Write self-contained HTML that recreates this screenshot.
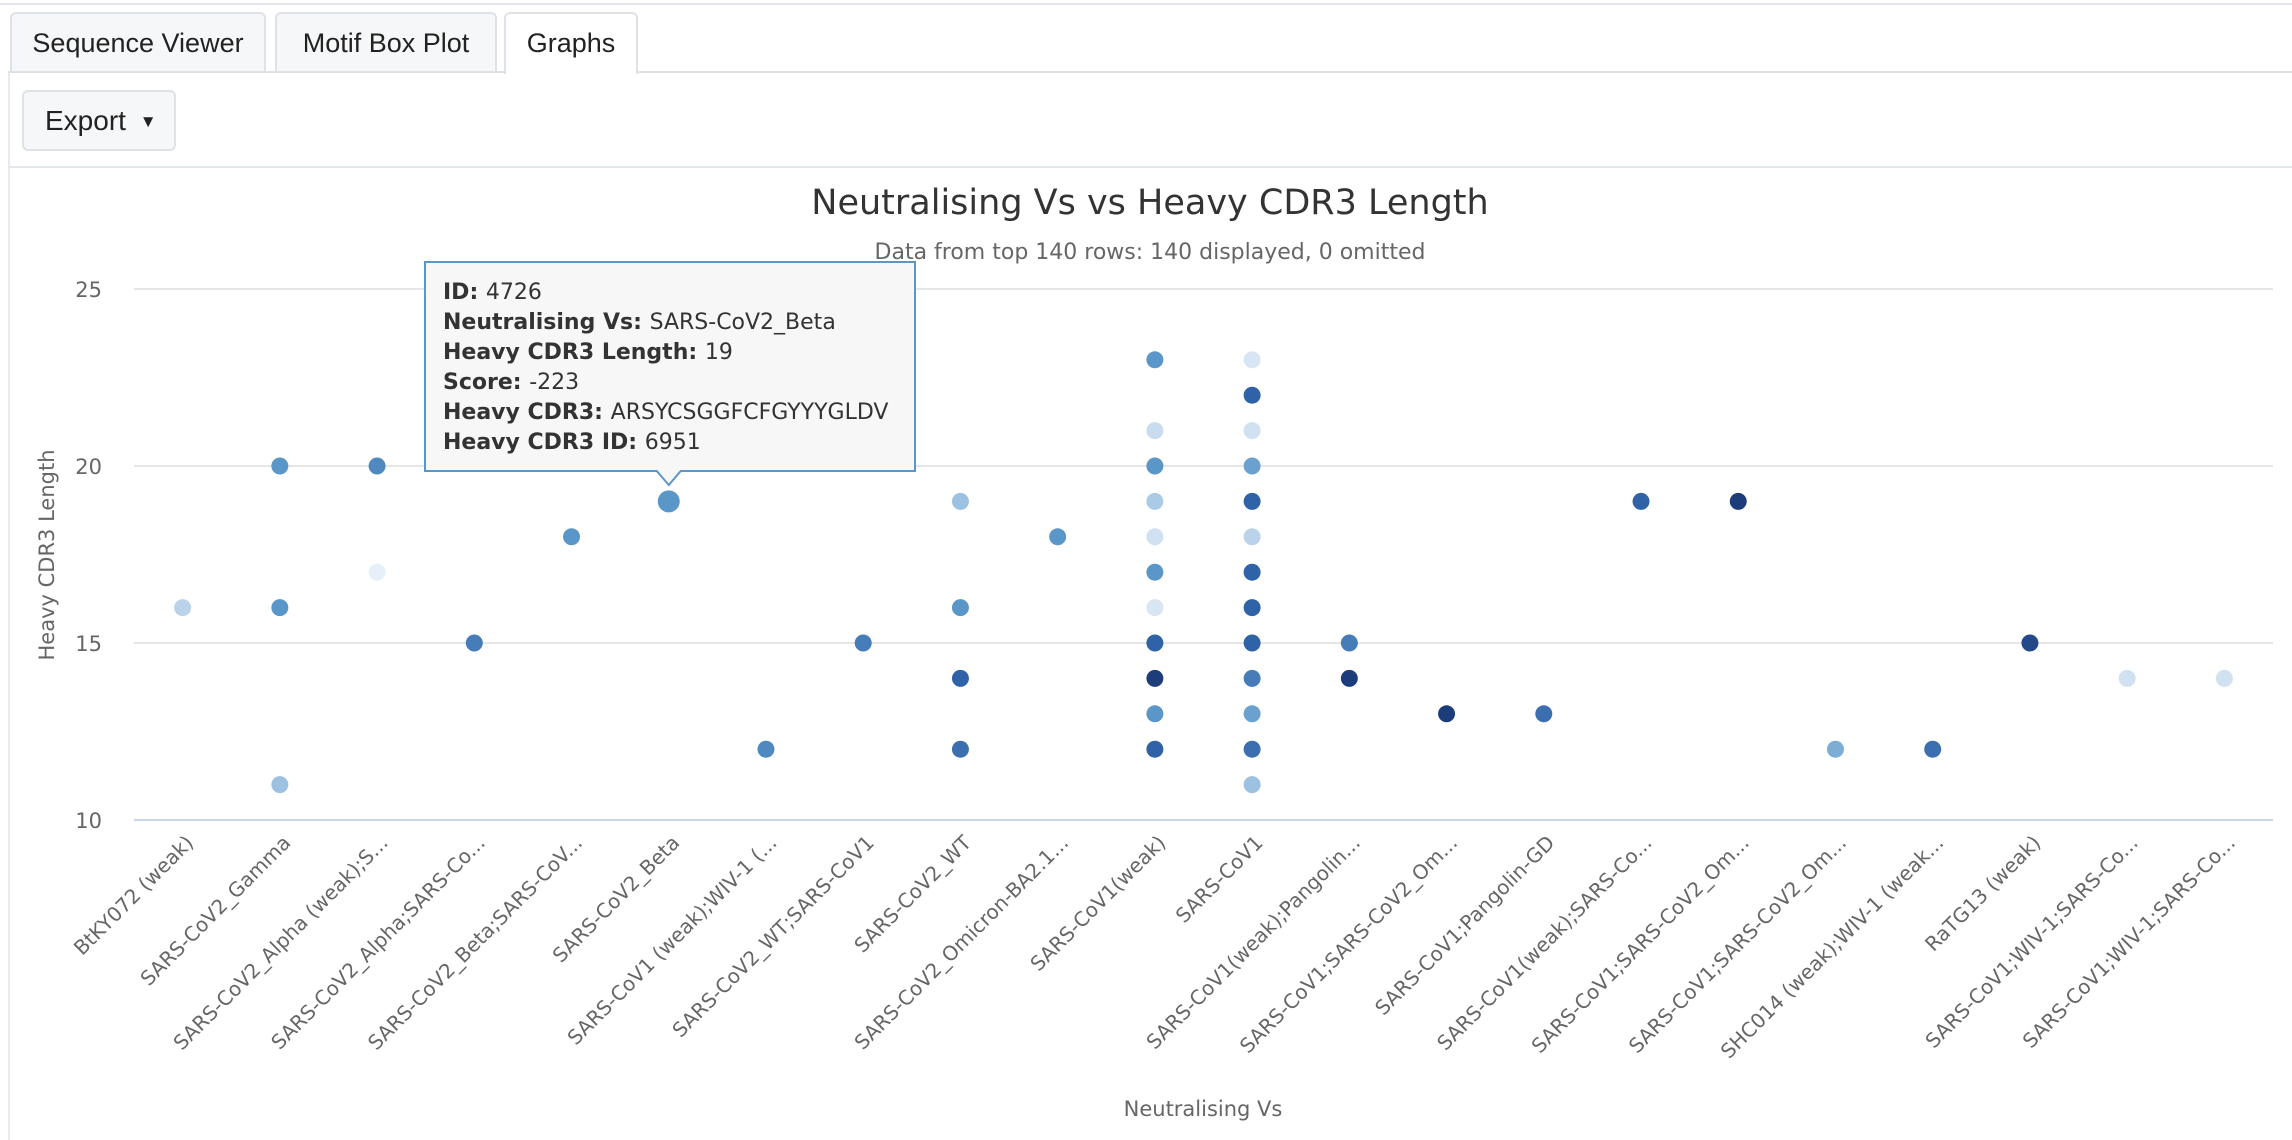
<!DOCTYPE html>
<html><head><meta charset="utf-8"><style>
body{margin:0;width:2292px;height:1140px;background:#fff;font-family:"Liberation Sans",sans-serif;overflow:hidden;position:relative}
.topline{position:absolute;left:0;top:3px;width:2292px;height:2px;background:#e3e6ea}
.tab{position:absolute;top:12px;height:60px;border:2px solid #dee2e6;border-bottom:none;border-radius:6px 6px 0 0;background:#f6f7f8;font-size:27px;color:#222;box-sizing:border-box;text-align:center;line-height:58px}
.tabline{position:absolute;left:8px;top:71px;width:2284px;height:2px;background:#dee2e6}
.export{position:absolute;left:22px;top:90px;width:154px;height:61px;border:2px solid #dee2e6;border-radius:6px;background:#f6f7f8;box-sizing:border-box;font-size:28px;line-height:57px;padding-left:21px;color:#222}
.sep{position:absolute;left:8px;top:166px;width:2284px;height:2px;background:#e3e6ea}
.lside{position:absolute;left:8px;top:72px;width:2px;height:1068px;background:#e8eaed}
</style></head><body>
<div class="topline"></div>
<div class="lside"></div>
<div class="tab" style="left:10px;width:256px">Sequence Viewer</div>
<div class="tab" style="left:275px;width:222px">Motif Box Plot</div>
<div class="tabline"></div>
<div class="tab" style="left:504px;width:134px;background:#fff;height:62px;z-index:2">Graphs</div>
<div class="export">Export <span style="font-size:17px;vertical-align:3px;margin-left:6px">▼</span></div>
<div class="sep"></div>
<svg id="chart" width="2292" height="1140" style="position:absolute;left:0;top:0"></svg>
<script>
const categories=["BtKY072 (weak)","SARS-CoV2_Gamma","SARS-CoV2_Alpha (weak);S...","SARS-CoV2_Alpha;SARS-Co...","SARS-CoV2_Beta;SARS-CoV...","SARS-CoV2_Beta","SARS-CoV1 (weak);WIV-1 (...","SARS-CoV2_WT;SARS-CoV1","SARS-CoV2_WT","SARS-CoV2_Omicron-BA2.1...","SARS-CoV1(weak)","SARS-CoV1","SARS-CoV1(weak);Pangolin...","SARS-CoV1;SARS-CoV2_Om...","SARS-CoV1;Pangolin-GD","SARS-CoV1(weak);SARS-Co...","SARS-CoV1;SARS-CoV2_Om...","SARS-CoV1;SARS-CoV2_Om...","SHC014 (weak);WIV-1 (weak...","RaTG13 (weak)","SARS-CoV1;WIV-1;SARS-Co...","SARS-CoV1;WIV-1;SARS-Co..."];
const pointCat=[0,1,1,1,2,2,3,4,5,6,7,8,8,8,8,9,10,10,10,10,10,10,10,10,10,10,10,11,11,11,11,11,11,11,11,11,11,11,11,11,12,12,13,14,15,16,17,18,19,20,21];
const pointLen=[16,20,16,11,20,17,15,18,19,12,15,19,16,14,12,18,23,21,20,19,18,17,16,15,14,13,12,23,22,21,20,19,18,17,16,15,14,13,12,11,15,14,13,13,19,19,12,12,15,14,14];
const pointShade=[0.3,0.6,0.6,0.4,0.65,0.05,0.7,0.6,0.6,0.65,0.7,0.4,0.6,0.8,0.75,0.6,0.6,0.25,0.6,0.35,0.2,0.6,0.15,0.8,0.95,0.6,0.8,0.15,0.8,0.2,0.55,0.8,0.3,0.8,0.8,0.8,0.7,0.55,0.75,0.4,0.7,0.95,0.95,0.75,0.8,0.95,0.5,0.75,0.9,0.2,0.2];
const yTicks=[10,15,20,25];
const tooltipLines=[["ID:","4726"],["Neutralising Vs:","SARS-CoV2_Beta"],["Heavy CDR3 Length:","19"],["Score:","-223"],["Heavy CDR3:","ARSYCSGGFCFGYYYGLDV"],["Heavy CDR3 ID:","6951"]];
const highlightIndex=8;

const NS="http://www.w3.org/2000/svg";
const svg=document.getElementById('chart');
const X0=134,X1=2273,Y0=820,Y1=289;
const band=(X1-X0)/categories.length;
function xScale(i){return X0+band*(i+0.5);}
function yScale(v){return Y0-(v-10)/(25-10)*(Y0-Y1);}
const stops=[[0,[238,244,251]],[0.25,[201,220,239]],[0.45,[141,184,220]],[0.6,[91,150,200]],[0.8,[48,98,168]],[1,[21,48,106]]];
function color(t){for(let i=1;i<stops.length;i++){if(t<=stops[i][0]){const a=stops[i-1],b=stops[i];const f=(t-a[0])/(b[0]-a[0]);const c=a[1].map((v,k)=>Math.round(v+(b[1][k]-v)*f));return `rgb(${c.join(',')})`;}}return 'rgb(21,48,106)';}
function el(tag,attrs,text){const e=document.createElementNS(NS,tag);for(const k in attrs)e.setAttribute(k,attrs[k]);if(text!==undefined)e.textContent=text;svg.appendChild(e);return e;}

let t=el('text',{x:1150,y:214,'text-anchor':'middle','font-size':35,fill:'#333','font-family':'DejaVu Sans, sans-serif'},'Neutralising Vs vs Heavy CDR3 Length');


t=el('text',{x:1150,y:259,'text-anchor':'middle','font-size':22,fill:'#666','font-family':'DejaVu Sans, sans-serif'},'Data from top 140 rows: 140 displayed, 0 omitted');



yTicks.forEach(v=>{
  const g=el('line',{x1:X0,x2:X1,y1:yScale(v),y2:yScale(v),stroke:v===10?'#ccd6eb':'#e6e6e6','stroke-width':2});
  
  
  const l=el('text',{x:102,y:yScale(v)+8,'text-anchor':'end','font-size':21,fill:'#666','font-family':'DejaVu Sans, sans-serif'},String(v));
  
  
});
t=el('text',{x:0,y:0,'text-anchor':'middle','font-size':21,fill:'#666','font-family':'DejaVu Sans, sans-serif',transform:'translate(54,555) rotate(-90)'},'Heavy CDR3 Length');



categories.forEach((c,i)=>{
  const x=xScale(i);
  const l=el('text',{x:0,y:0,'text-anchor':'end','font-size':20,fill:'#666','font-family':'DejaVu Sans, sans-serif',transform:`translate(${x+12},${844}) rotate(-45)`},c);
  
  
});
t=el('text',{x:1203,y:1116,'text-anchor':'middle','font-size':21,fill:'#666','font-family':'DejaVu Sans, sans-serif'},'Neutralising Vs');



pointLen.forEach((v,i)=>{
  const c=el('circle',{cx:xScale(pointCat[i]),cy:yScale(v),r:i===highlightIndex?11:8.5,fill:color(pointShade[i])});
  
  
});

const hx=xScale(pointCat[highlightIndex]),hy=yScale(pointLen[highlightIndex]);
const tx=425,ty=262,tw=490,th=209;
const tp=el('path',{d:`M${tx} ${ty}h${tw}v${th}H${hx+12}l-12 14l-12 -14H${tx}Z`,fill:'#f7f7f7',stroke:'#5b96c8','stroke-width':2,'fill-opacity':0.96});


tooltipLines.forEach((ln,i)=>{
  const tt=el('text',{x:443,y:299+i*30,'font-size':22,fill:'#333','font-family':'DejaVu Sans, sans-serif'});
  
  
  const b=document.createElementNS(NS,'tspan');b.setAttribute('font-weight','bold');b.textContent=ln[0]+' ';tt.appendChild(b);
  const v=document.createElementNS(NS,'tspan');v.textContent=ln[1];tt.appendChild(v);
});
</script>
</body></html>
